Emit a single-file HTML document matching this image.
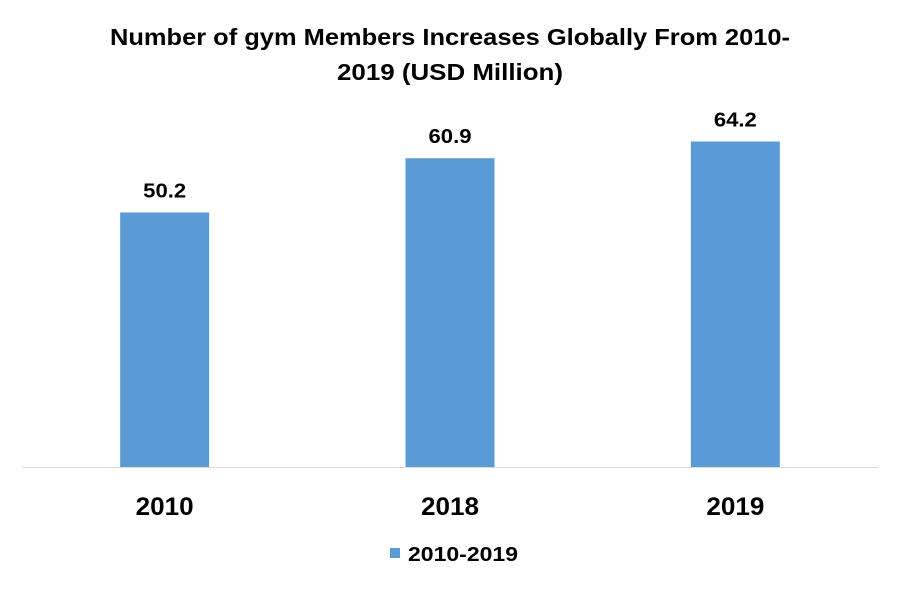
<!DOCTYPE html>
<html><head><meta charset="utf-8"><style>
html,body{margin:0;padding:0;background:#fff;}
svg{display:block;font-family:"Liberation Sans",sans-serif;}
</style></head><body>
<svg id="chart" width="900" height="592" viewBox="0 0 900 592">
<rect width="900" height="592" fill="#fff"/>
<text x="450" y="45" text-anchor="middle" font-size="23" font-weight="bold" fill="#000" textLength="680" lengthAdjust="spacingAndGlyphs">Number of gym Members Increases Globally From 2010-</text>
<text x="450" y="80" text-anchor="middle" font-size="23" font-weight="bold" fill="#000" textLength="226" lengthAdjust="spacingAndGlyphs">2019 (USD Million)</text>
<g id="bars"></g>
<line x1="22" y1="467.5" x2="878" y2="467.5" stroke="#d9d9d9" stroke-width="1"/>
<g>
<rect x="390" y="548" width="10" height="10" fill="#5b9bd5"/>
<text x="408" y="561" font-size="20" font-weight="bold" fill="#000" textLength="110" lengthAdjust="spacingAndGlyphs">2010-2019</text>
</g>
</svg>
<script>
const categories = ["2010", "2018", "2019"];
const values = [50.2, 60.9, 64.2];
const valueLabels = ["50.2", "60.9", "64.2"];

const plotLeft = 22, plotRight = 878, baseY = 467, pxPerUnit = 5.07, barW = 89;
const band = (plotRight - plotLeft) / categories.length;
function xCenter(i){ return plotLeft + band * (i + 0.5); }
function yScale(v){ return baseY - v * pxPerUnit; }

const NS = "http://www.w3.org/2000/svg";
const g = document.getElementById("bars");
categories.forEach((c, i) => {
  const cx = xCenter(i), y = yScale(values[i]);
  const r = document.createElementNS(NS, "rect");
  r.setAttribute("x", cx - barW / 2);
  r.setAttribute("y", y);
  r.setAttribute("width", barW);
  r.setAttribute("height", baseY - y);
  r.setAttribute("fill", "#5b9bd5");
  
  
  g.appendChild(r);

  const t = document.createElementNS(NS, "text");
  t.setAttribute("x", cx);
  t.setAttribute("y", y - 15);
  t.setAttribute("text-anchor", "middle");
  t.setAttribute("font-size", "20");
  t.setAttribute("font-weight", "bold");
  t.setAttribute("textLength", "43");
  t.setAttribute("lengthAdjust", "spacingAndGlyphs");
  t.textContent = valueLabels[i];
  
  
  g.appendChild(t);

  const xl = document.createElementNS(NS, "text");
  xl.setAttribute("x", cx);
  xl.setAttribute("y", 515);
  xl.setAttribute("text-anchor", "middle");
  xl.setAttribute("font-size", "25");
  xl.setAttribute("font-weight", "bold");
  xl.setAttribute("textLength", "58");
  xl.setAttribute("lengthAdjust", "spacingAndGlyphs");
  xl.textContent = c;
  
  
  g.appendChild(xl);
});
</script>
</body></html>
